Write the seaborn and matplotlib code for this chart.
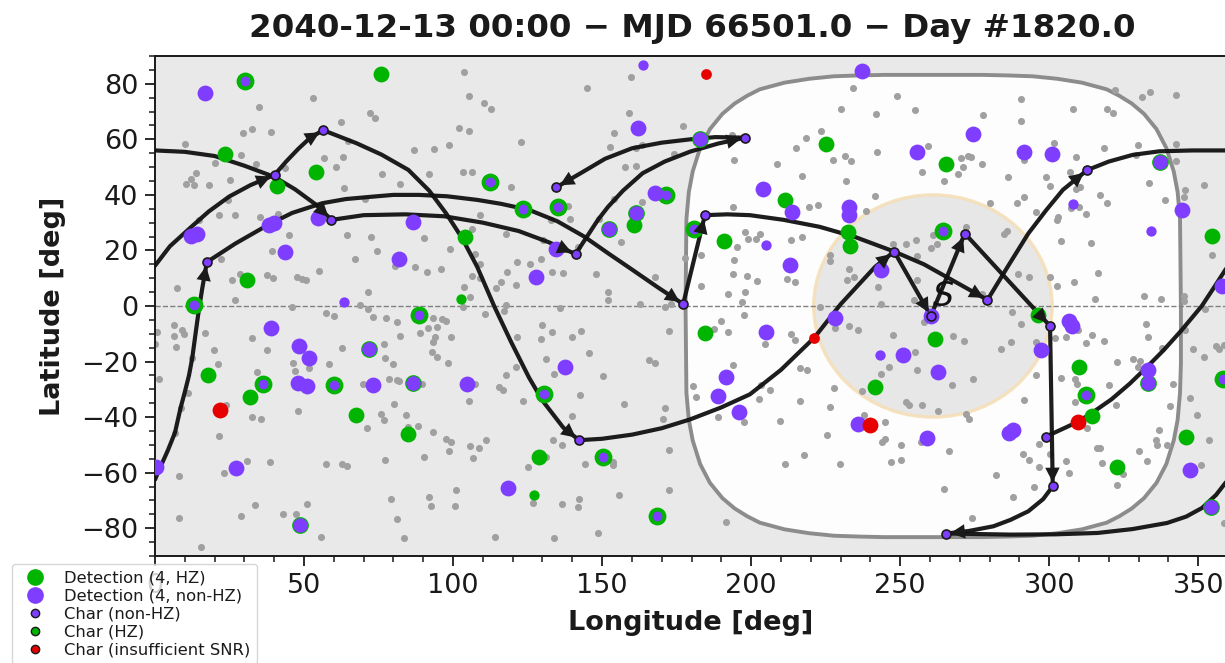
import numpy as np
import pandas as pd
import seaborn as sns
import matplotlib
matplotlib.use('Agg')
import matplotlib.pyplot as plt
from matplotlib.lines import Line2D
from matplotlib.patches import Circle, Polygon
from matplotlib.ticker import MultipleLocator

# background targets, no detection
grey_lon = [103.6,159.6,144.8,105.5,52.9,110.3,35,112.6,72.3,73.9,159.1,62.3,177,32.5,29.4,38.9,102,105.2,154,122.8,64.8,9.9,98.8,93.7,86.9,152.8,161.5,163.4,174.1,28.9,56.7,63.2,20,33.8,43.6,60.7,157.7,161.4,13.8,12,10.4,13.1,18.1,25.2,76.1,92,103.2,106.2,82.2,119.3,63.5,70.6,24.5,154.1,163.4,138.6,21.4,26.7,35.3,41.2,14.6,109,132.7,139.3,149,106.2,45.1,64.5,72.6,90.4,117.7,130.1,156.3,141.8,99,74.6,39.3,107.3,22,67.2,177.7,109,121.4,125.9,129.5,80.4,87.1,91.3,95.9,55.1,28.6,26,37.7,39.7,47.7,49.2,50.6,118,133.1,136.8,147.8,106.4,109,116.2,114.4,121,167.8,7.4,71.4,103.8,105.6,27,151.9,151.9,46,68.8,71.5,103.3,117.6,136,162.6,171.1,173.1,
    57.3,60,73,77.5,81.3,93.4,96.2,97.6,94.7,91.6,88.9,110.7,117,130,133.2,142.9,172.5,139.8,129.6,121.3,99.3,94,93.3,82.2,76.7,6.5,9,9.6,6.3,0.8,0.1,7.2,16.7,32.6,19.8,37.5,21,62.9,58.3,46.4,51.8,47.1,34.2,1.3,12.5,11.1,8.6,6.7,93.1,94.5,77.3,79.9,98.3,78.6,81.1,82,69.7,89.6,107.3,115.4,116.6,117.6,121.1,131.2,133.9,145.6,165.6,167.7,150.4,142.6,23.7,47.9,32.4,35.6,80.1,105.4,123.3,157.5,171,170.4,139.9,75.8,76.9,84.3,71.1,88.2,85,21.4,93.4,97.7,99.3,110.9,105.6,108.8,98.8,133.4,136.6,172.5,106.7,90.1,77.3,57.3,62.9,64.5,30.7,38.5,23,8,125.3,131.2,144.2,153.8,153.8,101,92,79.2,92.5,100.7,126.9,136.6,142.1,142,155.6,172.3,51,33.4,28.8,43,47.3,8,81.2,148.5,55.7,83.4,114.2,133.9,15.5,
    234.3,322.1,333.7,331.2,342.7,248.8,290.4,230,255,242,308,319.5,321.5,277.8,290.7,223.4,218.4,193.6,215.1,259.3,301.6,318.3,329.8,342.5,242.3,194.4,227.4,231.6,233.6,270.5,272.9,273.7,308.9,329.1,208.7,277.5,291.4,342.5,271.1,269.3,217.2,257.5,286.3,298.8,306.9,231.9,264.7,333.6,352,300.4,308.9,310.2,345.6,345.1,241.7,291.4,289.2,280,316.9,319.5,338.9,193.9,219.5,222.4,238.5,295.5,307.2,309.9,312.5,303.1,302.5,198.1,203,201.6,198.8,195.1,217.2,213.4,260.9,262.3,260.3,252,255.3,247.7,272,286,284.7,304,314,354.7,183.3,226.5,226.6,194.1,255.8,194,198.5,202.1,212.2,214.6,232.9,234.6,232.3,255.7,242.7,183.2,192.2,197.8,196.8,289.4,293.2,300.3,308.2,302.7,316.5,315.3,331.9,337.4,345.1,345.4,254.7,223,243.5,277.5,
    197.5,190,187.6,192.4,213.5,214.8,204.8,233,235.8,228,247.6,258,267.8,271.5,254.9,283.8,287.3,290.7,287.5,302,305.5,309.6,312.2,314.5,318.3,332.6,333,345.7,352.2,337.7,348.1,352,356,357.1,358.7,322.9,328,330.5,329.7,295.6,295.5,274.6,255.5,246.4,243.7,267.4,193.8,216.5,218.6,180.5,181.5,203.2,206.3,202.8,227.9,237.2,216.3,226.5,188.9,197.6,209.8,252.1,253,257.3,262.6,272,273,237.8,244.8,225.4,244.9,244,250.3,266.3,257,217.7,211.3,229.7,246.8,250.3,291.1,293.4,296.7,300.2,296.7,305.5,306.5,282.2,295,287.9,264.6,274.2,191.7,291.7,304.1,308.5,309.5,308.6,320.1,322.5,312.8,316,317,317.8,324.7,322.7,330,332.8,335.9,336.1,339.4,336.8,341.6,340.6,347.2,349.5,353.7,351.1,358.5]
grey_lat = [84.3,82.6,78.4,75.6,74.9,73.2,71.5,70.8,69.5,67.8,69.6,66.1,64.8,63.6,62.3,62.8,64.1,63,62.3,59.2,59.5,58.3,57.9,56.4,56,57.1,56.8,58.1,54.8,54.5,53.2,53.5,51.4,51,49.6,50,50,50.3,47.8,45.7,44,43.4,43.5,45.4,47.5,47.5,48.1,48.2,43.9,43,42.4,38.4,38,38.7,37.4,36.1,32.9,32.8,32.1,33,30.8,32.6,30.8,31.2,31.3,27.7,25.7,25.7,24.8,24.5,25.8,23.7,23.2,21.3,20.6,19.8,19.8,18.7,16.9,16.9,17.2,15.2,15.7,15.2,16.8,14.4,14,12.1,13.3,12.6,11.6,9.4,11,10.2,10.5,9.8,9.2,12.3,12.3,11.9,11.7,10.9,10.2,8.6,6.4,7.6,10.5,6.6,5.1,6.8,3.3,2,5,2.1,-0.3,0.3,-0.9,-0.3,0.3,-0.7,0.7,-0.3,0.6,
    -2.5,-3.7,-3.8,-4.3,-5.9,-4.3,-4.7,-5.5,-7.5,-8,-9.7,-3,-1.7,-6.7,-9.2,-8.9,-8.9,-11.2,-11.8,-11.1,-11,-11.2,-12.9,-10.8,-13.5,-7,-8.8,-9.9,-10.8,-9.4,-13.6,-14.9,-9.7,-11.5,-15.9,-15.7,-20.7,-15,-20.7,-20.5,-22.2,-23.4,-23.9,-26.2,-18.7,-31.4,-36.6,-45.6,-16.7,-18.5,-18.6,-20.7,-20.4,-26.2,-26.8,-27.1,-28,-28.2,-28,-29.1,-30.4,-24.9,-22,-19,-24.6,-16.8,-19.6,-20.4,-25.2,-32,-35.7,-37.8,-39.9,-40.7,-35.2,-34.1,-34.2,-35.4,-36.6,-40.6,-39.6,-38.9,-41.2,-39.2,-43.8,-43.2,-43.6,-46.9,-45.4,-48,-49.1,-48.4,-50.3,-51.2,-52.1,-48.3,-50,-51.9,-54.7,-54.5,-55.6,-56.8,-56.9,-57.5,-55.9,-56,-60,-61.1,-58.1,-54.3,-56.8,-56.3,-57.4,-66.2,-68.6,-69.4,-72,-72.1,-70.8,-71.4,-69.3,-72.3,-68,-66.4,-71.1,-71.7,-75.6,-75,-74.7,-76.4,-76.6,-81.7,-83,-83.5,-83.2,-83.6,-86.7,
    78.6,77.9,77.1,75.4,76.1,75.6,74.7,70.8,70.6,69.3,71.1,70.8,69.6,68.7,66.6,63,60.5,61.7,56.8,57.6,58.7,56.9,57.8,58.4,55.3,52.6,52.6,54,52.2,53.2,54.1,53.5,53.8,54.4,51.2,51,52.4,52.1,49.9,47.6,46.9,48.1,46.4,46.4,48.1,45,45.1,44.4,43.7,43.1,42.2,42.8,41.8,39.2,39.7,39.2,37,37,40,37,38.1,35.5,35.7,36.2,34.2,33.7,35.3,35.5,33.1,32.1,30.9,26.6,25.9,24.3,24.1,21.4,25,23.9,25.4,22.4,20.8,22.5,23.6,22.3,28.3,27.1,25.9,23.4,22.7,18.3,18.3,18.4,16.2,16.4,17.9,11.7,10.8,9,9.7,8.5,13.3,10.5,9.4,9.3,6.9,7.3,4.5,5.1,1.6,11.4,10.5,10.5,8.8,7.3,12,2.6,3.7,2.7,3.7,1.9,2.2,-0.3,0.6,4.5,
    -3.4,-5.4,-8.2,-9.4,-10.2,-12.3,-13.8,-7.2,-8.5,-7.8,-10.3,-5.9,-10.7,-12.7,-16.7,-15.3,-12.9,-6.4,-2,-11.5,-11,-8.8,-13.2,-10.3,-12.6,-6.6,-11,-8.5,-1.2,-15,-15.6,-18.4,-14.3,-15.4,-14.2,-20,-19.1,-19.8,-21.9,-13,-24.7,-26.4,-23,-21.9,-24.5,-28.6,-21.3,-22.3,-22.9,-28.7,-32.7,-28.5,-30.2,-33.4,-29.6,-30.6,-34.2,-36.5,-39.9,-41.8,-41.4,-34.7,-35.8,-35.8,-37.7,-38.7,-40.6,-39.2,-41.8,-46.4,-48,-49.1,-50.1,-52.3,-49,-53.8,-57,-56.7,-56.2,-55.3,-53.2,-55.3,-49.6,-53.3,-57.8,-55.7,-60.1,-60.7,-65.3,-68.7,-65.8,-76.2,-77.8,-34,-26,-26.4,-28.2,-34.5,-28.5,-35.8,-43.8,-51.2,-51,-56.6,-60.4,-64.5,-52.3,-55.7,-48.4,-50.2,-49.9,-44.6,-28,-36,-33.2,-39.4,-48.3,-57.4,-78]

# detections, non-HZ
purple_lon = [16.9,162.1,12,14,38.3,40,54.6,86.7,43.5,81.8,134.4,127.8,167.8,38.8,48.2,51.8,48.1,50.9,73.1,104.8,137.7,27.1,118.6,0.4,237.2,274.3,255.5,291.6,301,204,213.7,233,232.7,243.7,344.6,213.2,357.9,228.3,205.1,191.5,189,196.1,235.7,259,262.6,250.9,297.4,306.5,307.5,333,288,286.6,347.4,260.2]
purple_lat = [76.7,64.2,25.3,26,29.1,29.9,31.8,30.2,19.5,17.1,20.5,10.5,40.7,-8,-14.5,-18.6,-27.7,-28.8,-28.5,-28.1,-22.1,-58.3,-65.5,-58,84.6,62,55.6,55.4,54.6,42.3,33.9,35.6,32.7,12.9,34.4,14.7,7.3,-4.4,-9.5,-25.6,-32.4,-38,-42.4,-47.6,-23.6,-17.5,-15.9,-5.4,-7.2,-23,-44.6,-45.8,-58.9,-3.6]
purple_small_lon = [63.5,163.7,308.1,334.2,204.9,243.2]
purple_small_lat = [1.3,86.6,36.7,26.9,21.9,-17.6]

# detections, HZ
green_lon = [75.9,23.6,53.9,41,104,160.8,30.9,17.7,32,67.4,84.8,129,225.2,265.5,211.3,232.5,233.2,191,354.6,184.5,261.7,296.3,241.4,309.9,314.3,322.7,345.8]
green_lat = [83.7,54.6,48.2,43.3,24.8,29.3,9.2,-24.9,-32.9,-39.2,-46,-54.3,58.3,51.1,38.3,26.7,21.7,23.4,25.3,-9.6,-12,-3.1,-29,-22.1,-39.6,-57.9,-47]
green_small_lon = [102.5,127.1]
green_small_lat = [2.6,-68]

# green ring with a small purple centre
ring_lon = [30.2,112.4,123.6,135.2,171.6,13,36.2,60.1,88.6,130.4,150.3,168.4,180.7,264.5,312.3,358.2]
ring_lat = [81,44.6,34.9,35.5,40,0.2,-28,-28.6,-3.2,-31.5,-54.2,-75.7,27.6,27,-32,-26.4]
# green ring almost covered by a large purple centre
ring_big_lon = [152.2,161.5,71.8,86.7,48.6,182.8,337.3,333,354.4]
ring_big_lat = [27.6,33.6,-15.6,-27.6,-79,60.2,52,-27.6,-72.4]

red_lon = [21.8,239.8,309.8]
red_lat = [-37.5,-42.8,-41.6]
red_small_lon = [185,221.2]
red_small_lat = [83.4,-11.4]

# observed targets on the track
node_lon = [59.2,141.1,134.6,198,177.2,184.5,248,260.3,271.7,279.3,312.7,300.3,301.2,265.5,298.8,17.4,40.1,56.4,142.3]
node_lat = [31,18.7,42.7,60.6,0.7,32.7,19.6,-3.6,26.1,2.2,48.9,-7.2,-64.9,-81.9,-47.1,15.8,47.2,63.3,-48.3]

# telescope track, one leg id per waypoint, split where it wraps at 360
track_leg = [0]*11 + [1]*7 + [2]*5 + [3]*14 + [4]*12 + [5]*2 + [6]*2 + [7]*2 + [8]*2 + [9]*7 + [10]*10 + [11]*12 + [12]*19 + [13]*2 + [14]*10 + [15]*6 + [16]*6 + [17]*8 + [18]*8 + [19]*9 + [20]*8
track_lon = [298.8,309.8,315,320.9,327,332.6,338.5,344.2,351.2,355.5,360,
    0,5,12.2,18,24.9,32,40.1,
    40.1,44,48,52,56.4,
    56.4,67.6,76,85,92,97.7,103,108.1,113.9,119.5,125.5,130.1,137,142.3,
    142.3,150,160.1,170,179.6,190,199.6,210,221.2,230,241.6,248,
    248,260.3, 260.3,271.7, 271.7,300.3, 300.3,301.2,
    301.2,298,293,287,281.3,273,265.5,
    265.5,287.1,302,316.3,328,339.6,346,351.3,356,360,
    0,2,4.3,6.7,8.6,10,11.4,12.5,13.6,14.5,15.8,17.4,
    17.4,27,37.6,46,56.1,64,72.3,80,88.5,98,108.1,116,125.5,135,144,152,160.2,169,177.2,
    177.2,184.5,
    184.5,192,199.6,211,223,235,248,258,268,279.3,
    279.3,286,293,299,304.6,312.7,
    312.7,320,328,337,348,360,
    0,10,20,30,40,47,54,59.2,
    59.2,70,84,97,110,122,132,141.1,
    141.1,148.6,152,157,163.6,171,179.6,189,198,
    198,188,179.6,170,160.1,151,142.8,134.6]
track_lat = [-47.1,-41.6,-38,-33.6,-28,-22.2,-15.8,-9,0,7,14.5,
    14.5,21.5,28.5,34,39.4,43.5,47.2,
    47.2,52,56.5,60.5,63.3,
    63.3,58.6,54.5,49,41.5,33.3,24.5,14.1,-0.3,-13,-25.8,-34.2,-43.8,-48.3,
    -48.3,-47.8,-46.3,-44,-40.8,-36.5,-31.8,-23,-11.4,0.6,14.1,19.6,
    19.6,-3.6, -3.6,26.1, 26.1,-7.2, -7.2,-64.9,
    -64.9,-69.5,-73.9,-77,-79.3,-81,-81.9,
    -81.9,-82.3,-82.2,-81.7,-80.3,-78.1,-75.8,-72.7,-68,-62.5,
    -62.5,-57.5,-52,-45.6,-36.6,-31,-25,-18.7,-10,-3,6,15.8,
    15.8,22.5,29,33.5,37,38.5,39.3,40,40,39.5,38.2,36.8,34.6,30.5,25,19,13,6.5,0.7,
    0.7,32.7,
    32.7,33,32.7,31,28.5,24.8,19.6,15,9,2.2,
    2.2,14,26.1,34.5,41.8,48.9,
    48.9,52,54.4,55.7,56,56,
    56,55.5,54,50.5,46.5,42,36.5,31,
    31,32.7,33,32.3,30,27,23,18.7,
    18.7,31,35.7,41.5,47.8,52,55.6,58.5,60.6,
    60.6,60.8,60,58.8,56.8,53,47.8,42.7]
arrow_legs = [1,2,3,4,5,6,7,8,9,11,12,13,14,15,17,18,19,20]

# keepout boundary, traced clockwise from the left edge
keepout_lon = [178,178.3,179.1,180.4,182.9,186.2,190.4,194.5,198.7,202.9,211.2,219.5,227.8,236.1,244.5,261.1,277.7,286.1,294.4,302.7,311,319.3,323.5,327.7,331.8,336,339.3,341.8,343.1,343.9,344.2,
    344.2,343.9,343.1,341.8,339.3,336,331.8,327.7,323.5,319.3,311,302.7,294.4,286.1,277.7,261.1,244.5,236.1,227.8,219.5,211.2,202.9,198.7,194.5,190.4,186.2,182.9,180.4,179.1,178.3]
keepout_lat = [0,31.3,41,48.4,56.9,63.7,69.2,72.9,75.7,78,80.4,81.8,82.7,83,83.2,83.2,83.2,83,82.7,81.8,80.4,78,75.7,72.9,69.2,63.7,56.9,48.4,41,31.3,0,
    -20.8,-31.3,-41,-48.4,-56.9,-63.7,-69.2,-72.9,-75.7,-78,-80.4,-81.8,-82.7,-83,-83.2,-83.2,-83.2,-83,-82.7,-81.8,-80.4,-78,-75.7,-72.9,-69.2,-63.7,-56.9,-48.4,-41,-31.3]

sns.set_theme(style='ticks')
plt.rcParams['font.family'] = ['DejaVu Sans']
plt.rcParams['text.color'] = 'k'
plt.rcParams['axes.labelcolor'] = 'k'
plt.rcParams['xtick.color'] = 'k'
plt.rcParams['ytick.color'] = 'k'

C_GREEN = '#00b400'
C_PURPLE = '#7f3dff'
C_RED = '#e60000'

fig = plt.figure(figsize=(12.25, 6.63), dpi=100)
ax = fig.add_axes([155/1225, (663-556)/663, 1073/1225, 500/663])
ax.set_facecolor('#e9e9e9')
ax.set_xlim(0, 360)
ax.set_ylim(-90, 90)

ax.add_patch(Polygon(np.column_stack([keepout_lon, keepout_lat]), closed=True, fc='#fdfdfd', ec='#8c8c8c', lw=2.8, zorder=1))
ax.add_patch(Circle((261, 0), 40, fc='#e5e5e5', ec='#f5dfb8', lw=2.4, alpha=0.9, zorder=1.2))
ax.axhline(0, color='#808080', lw=1, ls='--', zorder=1.5)


def dots(lon, lat, color, size, z, **kw):
    sns.scatterplot(x=lon, y=lat, color=color, s=size, linewidth=0, ax=ax, zorder=z, legend=False, **kw)


dots(grey_lon, grey_lat, '#a0a0a0', 26, 2)

track = pd.DataFrame({'lon': track_lon, 'lat': track_lat, 'leg': track_leg})
sns.lineplot(data=track, x='lon', y='lat', units='leg', estimator=None, sort=False,
             color='#111111', alpha=0.95, lw=3, ax=ax, zorder=3, legend=False)

dots(ring_lon, ring_lat, C_GREEN, 165, 4)
dots(ring_big_lon, ring_big_lat, C_GREEN, 145, 4)
dots(green_lon, green_lat, C_GREEN, 130, 4)
dots(green_small_lon, green_small_lat, C_GREEN, 55, 4)
dots(purple_lon, purple_lat, C_PURPLE, 130, 4.1)
dots(ring_big_lon, ring_big_lat, C_PURPLE, 110, 4.2)
dots(ring_lon, ring_lat, C_PURPLE, 50, 4.2)
dots(purple_small_lon, purple_small_lat, C_PURPLE, 55, 4.1)
dots(red_lon, red_lat, C_RED, 130, 4.3)
dots(red_small_lon, red_small_lat, C_RED, 60, 4.3)

for leg in arrow_legs:
    part = track[track['leg'] == leg]
    ax.annotate('', xy=(part['lon'].iloc[-1], part['lat'].iloc[-1]),
                xytext=(part['lon'].iloc[-2], part['lat'].iloc[-2]),
                arrowprops=dict(arrowstyle='-|>', mutation_scale=26, color='k', lw=0, shrinkA=0, shrinkB=3),
                zorder=5)

sns.scatterplot(x=node_lon, y=node_lat, color=C_PURPLE, edgecolor='k', s=42, linewidth=1.2, ax=ax, zorder=6, legend=False)

# current target
ax.text(264.4, 3.5, 'S', fontsize=24, style='italic', ha='center', va='center', color='#111111', zorder=6)

ax.xaxis.set_major_locator(MultipleLocator(50))
ax.xaxis.set_minor_locator(MultipleLocator(10))
ax.yaxis.set_major_locator(MultipleLocator(20))
ax.yaxis.set_minor_locator(MultipleLocator(5))
ax.tick_params(axis='both', which='major', labelsize=19.5, length=7, width=1.3, direction='out', pad=5)
ax.tick_params(axis='both', which='minor', length=4, width=1.1, direction='out')
for spine in ax.spines.values():
    spine.set_linewidth(1.4)
    spine.set_color('k')

ax.set_xlabel('Longitude [deg]', fontsize=19.5, fontweight='bold')
ax.set_ylabel('Latitude [deg]', fontsize=19.5, fontweight='bold')
ax.xaxis.set_label_coords(536/1073, -54/500)
ax.yaxis.set_label_coords(-89/1073, 0.5)
fig.text(692/1225, 1 - 29/663, '2040-12-13 00:00 \u2212 MJD 66501.0 \u2212 Day #1820.0',
         fontsize=23.4, fontweight='bold', ha='center', va='center')

handles = [
    Line2D([], [], ls='', marker='o', ms=11, mfc=C_GREEN, mec=C_GREEN),
    Line2D([], [], ls='', marker='o', ms=11, mfc=C_PURPLE, mec=C_PURPLE),
    Line2D([], [], ls='', marker='o', ms=6, mfc=C_PURPLE, mec='k', mew=1),
    Line2D([], [], ls='', marker='o', ms=6, mfc=C_GREEN, mec='k', mew=1),
    Line2D([], [], ls='', marker='o', ms=6, mfc=C_RED, mec='k', mew=1),
]
labels = ['Detection (4, HZ)', 'Detection (4, non-HZ)', 'Char (non-HZ)', 'Char (HZ)', 'Char (insufficient SNR)']
ax.legend(handles, labels, loc='upper left', bbox_to_anchor=(12/1225, 1 - 564/663), bbox_transform=fig.transFigure,
          borderaxespad=0, fontsize=11.8, frameon=True, framealpha=0.8, edgecolor='#cccccc', labelspacing=0.18,
          handletextpad=0.8, fancybox=True)

fig.savefig('out.png', dpi=100)
